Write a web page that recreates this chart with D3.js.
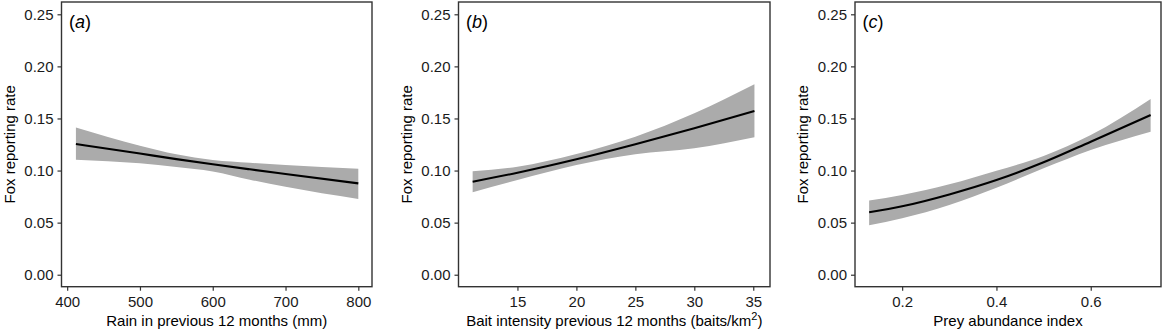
<!DOCTYPE html>
<html>
<head>
<meta charset="utf-8">
<script src="https://cdn.jsdelivr.net/npm/d3@7"></script>
<style>
  body { margin: 0; background: #fff; }
  #chart { width: 1169px; height: 332px; }
  text { font-family: "Liberation Sans", Arial, sans-serif; }
</style>
</head>
<body>
<div id="chart"></div>
<script>
// panel (a) rain
var rainX   = [412, 500, 550, 600, 651, 700, 800];
var rainFit = [0.1255, 0.1163, 0.1110, 0.1060, 0.1012, 0.0967, 0.0877];
var rainLo  = [0.1104, 0.1069, 0.1035, 0.0992, 0.0912, 0.0845, 0.0727];
var rainHi  = [0.1413, 0.1239, 0.1156, 0.1101, 0.1075, 0.1053, 0.1018];

// panel (b) bait intensity
var baitX   = [11.2, 15, 20, 25, 30, 35.1];
var baitFit = [0.0893, 0.0979, 0.1108, 0.1252, 0.1406, 0.1572];
var baitLo  = [0.0791, 0.0909, 0.1053, 0.1156, 0.1213, 0.1319];
var baitHi  = [0.0993, 0.1037, 0.1159, 0.1325, 0.1550, 0.1828];

// panel (c) prey abundance
var preyX   = [0.13, 0.2, 0.3, 0.4, 0.5, 0.6, 0.727];
var preyFit = [0.0599, 0.0657, 0.0771, 0.0909, 0.1079, 0.1277, 0.1533];
var preyLo  = [0.0474, 0.0541, 0.0669, 0.0835, 0.1021, 0.1197, 0.1373];
var preyHi  = [0.0712, 0.0765, 0.0868, 0.0998, 0.1140, 0.1341, 0.1687];

var yTicks = [0, 0.05, 0.10, 0.15, 0.20, 0.25];

var panels = [
    {label: "a", x: rainX, fit: rainFit, lo: rainLo, hi: rainHi,
     left: 61.5, right: 372, domain: [392.2, 818.8], ticks: [400, 500, 600, 700, 800],
     fmt: d3.format("d"), title: "Rain in previous 12 months (mm)"},
    {label: "b", x: baitX, fit: baitFit, lo: baitLo, hi: baitHi,
     left: 458.5, right: 770, domain: [10.0, 36.42], ticks: [15, 20, 25, 30, 35],
     fmt: d3.format("d"), title: "Bait intensity previous 12 months (baits/km", sup: "2"},
    {label: "c", x: preyX, fit: preyFit, lo: preyLo, hi: preyHi,
     left: 855, right: 1161, domain: [0.100, 0.749], ticks: [0.2, 0.4, 0.6],
     fmt: d3.format(".1f"), title: "Prey abundance index"}
];

var width = 1169, height = 332;
var plotTop = 2, plotBottom = 286.7;

var svg = d3.select("#chart")
    .append("svg")
    .attr("width", width)
    .attr("height", height);

var yScale = d3.scaleLinear()
    .domain([-0.0115, 0.2618])
    .range([plotBottom, plotTop]);

panels.forEach(function(p) {
    var xScale = d3.scaleLinear()
        .domain(p.domain)
        .range([p.left, p.right]);

    var rows = p.x.map(function(v, i) {
        return {x: v, fit: p.fit[i], lo: p.lo[i], hi: p.hi[i]};
    });

    var g = svg.append("g");

    var band = d3.area()
        .x(function(d) { return xScale(d.x); })
        .y0(function(d) { return yScale(d.lo); })
        .y1(function(d) { return yScale(d.hi); })
        .curve(d3.curveMonotoneX);

    var line = d3.line()
        .x(function(d) { return xScale(d.x); })
        .y(function(d) { return yScale(d.fit); })
        .curve(d3.curveMonotoneX);

    g.append("path")
        .datum(rows)
        .attr("d", band)
        .attr("fill", "#ababab");

    g.append("path")
        .datum(rows)
        .attr("d", line)
        .attr("fill", "none")
        .attr("stroke", "#000")
        .attr("stroke-width", 2.1);

    // panel border
    g.append("rect")
        .attr("x", p.left)
        .attr("y", plotTop)
        .attr("width", p.right - p.left)
        .attr("height", plotBottom - plotTop)
        .attr("fill", "none")
        .attr("stroke", "#333")
        .attr("stroke-width", 1.4);

    var xAxis = g.append("g")
        .attr("transform", `translate(0,${plotBottom})`)
        .call(d3.axisBottom(xScale).tickValues(p.ticks).tickFormat(p.fmt).tickSize(4).tickPadding(6));

    var yAxis = g.append("g")
        .attr("transform", `translate(${p.left},0)`)
        .call(d3.axisLeft(yScale).tickValues(yTicks).tickFormat(d3.format(".2f")).tickSize(4).tickPadding(4));

    [xAxis, yAxis].forEach(function(ax) {
        ax.select(".domain").remove();
        ax.selectAll("line").attr("stroke", "#333").attr("stroke-width", 1.2);
        ax.selectAll("text")
            .attr("fill", "#1a1a1a")
            .style("font-size", "15px")
            .style("font-family", "'Liberation Sans', Arial, sans-serif");
    });

    var xt = g.append("text")
        .attr("class", "axisLabel")
        .attr("x", (p.left + p.right) / 2)
        .attr("y", 326)
        .attr("text-anchor", "middle")
        .style("font-size", "15px")
        .text(p.title);
    if (p.sup) {
        xt.append("tspan").attr("dy", -6).style("font-size", "11px").text(p.sup);
        xt.append("tspan").attr("dy", 6).text(")");
    }

    g.append("text")
        .attr("class", "axisLabel")
        .attr("transform", "rotate(-90)")
        .attr("x", -(plotTop + plotBottom) / 2)
        .attr("y", p.left - 47)
        .attr("text-anchor", "middle")
        .style("font-size", "15px")
        .text("Fox reporting rate");

    var lab = g.append("text")
        .attr("x", p.left + 7.5)
        .attr("y", 28)
        .style("font-size", "18px");
    lab.append("tspan").text("(");
    lab.append("tspan").style("font-style", "italic").text(p.label);
    lab.append("tspan").text(")");
});
</script>
</body>
</html>
